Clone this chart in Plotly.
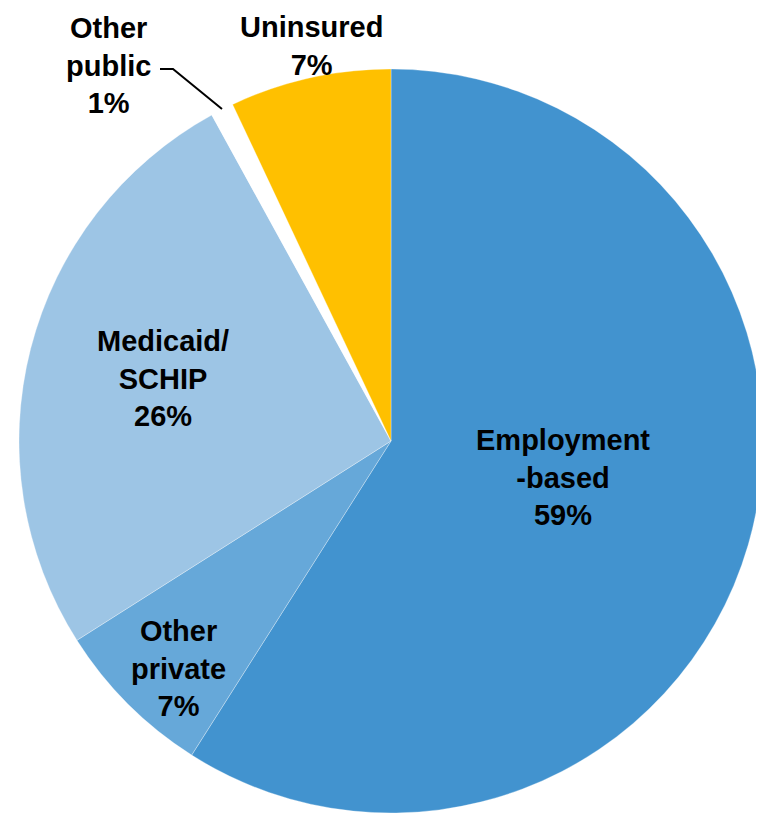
import plotly.graph_objects as go

# Data
categories = ["Employment-based", "Other private", "Medicaid/SCHIP", "Other public", "Uninsured"]
values = [59, 7, 26, 1, 7]
label_lines = ["Employment<br>-based", "Other<br>private", "Medicaid/<br>SCHIP", "Other<br>public", "Uninsured"]

# Styles
colors = ["#4293CF", "#66A8D9", "#9DC5E5", "#FFFFFF", "#FFC000"]
W, H = 764, 815
OFF = 8  # page body margin compensation
# label centres in pixels (style/layout, not data)
label_pos = [(563, 477), (178, 668), (163, 378), (109, 65), (311, 46)]


def px2paper(x, y):
    return (x - OFF) / W, 1 - (y - OFF) / H


fig = go.Figure()
x0, y0 = px2paper(19, 69)
x1, y1 = px2paper(763, 813)
fig.add_trace(go.Pie(
    labels=categories,
    values=values,
    sort=False,
    direction="clockwise",
    rotation=0,
    textinfo="none",
    hoverinfo="label+percent",
    marker=dict(colors=colors, line=dict(color="rgba(255,255,255,0.3)", width=1)),
    showlegend=False,
    domain=dict(x=[x0, x1], y=[y1, y0]),
))

for lab, val, (px, py) in zip(label_lines, values, label_pos):
    ax, ay = px2paper(px, py)
    fig.add_annotation(
        x=ax, y=ay, xref="paper", yref="paper",
        text=f"{lab}<br>{val}%", showarrow=False,
        xanchor="center", yanchor="middle", align="center",
        font=dict(family="Arial, Liberation Sans, sans-serif", size=29, color="#000000", weight="bold"),
    )

# leader line for "Other public"
pts = [(160, 69), (173, 69), (222, 109)]
path = "M " + " L ".join("{} {}".format(*px2paper(x, y)) for x, y in pts)
fig.add_shape(type="path", path=path, xref="paper", yref="paper",
              line=dict(color="#000000", width=2))

fig.update_layout(
    width=W, height=H,
    margin=dict(l=0, r=0, t=0, b=0),
    paper_bgcolor="#FFFFFF",
    plot_bgcolor="#FFFFFF",
)

fig.write_html("out.html")
